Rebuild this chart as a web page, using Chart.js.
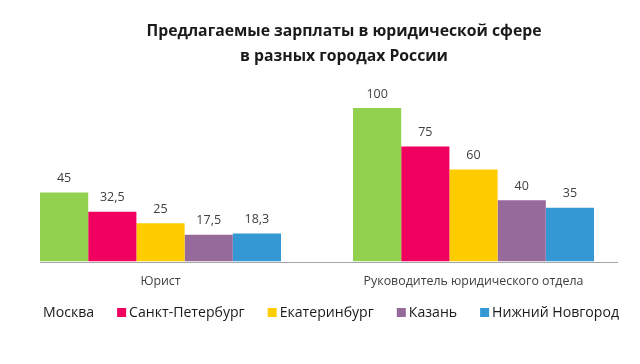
<!DOCTYPE html>
<html>
<head>
<meta charset="utf-8">
<script src="https://cdn.jsdelivr.net/npm/chart.js@4/dist/chart.umd.min.js"></script>
<style>
html,body{margin:0;padding:0;background:#fff;}
#wrap{width:640px;height:364px;position:relative;}
</style>
</head>
<body>
<div id="wrap"><canvas id="c" width="640" height="364"></canvas></div>
<script>
const titleLines = ['Предлагаемые зарплаты в юридической сфере', 'в разных городах России'];
const categories = ['Юрист', 'Руководитель юридического отдела'];
const seriesNames = ['Москва', 'Санкт-Петербург', 'Екатеринбург', 'Казань', 'Нижний Новгород'];
const moskva = [45, 100];
const spb = [32.5, 75];
const ekb = [25, 60];
const kazan = [17.5, 40];
const nnov = [18.3, 35];
const seriesColors = ['#92D050', '#F0005F', '#FFCC00', '#976A9C', '#3398D3'];

const FONT = "'Open Sans', 'DejaVu Sans', sans-serif";
const TEXT = '#404040';

const titlePlugin = {
  id: 'titleText',
  afterDraw(chart) {
    const ctx = chart.ctx;
    ctx.save();
    ctx.fillStyle = '#1a1a1a';
    ctx.font = "bold 15.75px " + FONT;
    ctx.textAlign = 'center';
    ctx.textBaseline = 'middle';
    ctx.fillText(titleLines[0], 344, 32);
    ctx.fillText(titleLines[1], 344, 57);
    ctx.restore();
  }
};

const valueLabels = {
  id: 'valueLabels',
  afterDatasetsDraw(chart) {
    const ctx = chart.ctx;
    ctx.save();
    ctx.fillStyle = TEXT;
    ctx.font = "12.5px " + FONT;
    ctx.textAlign = 'center';
    ctx.textBaseline = 'middle';
    chart.data.datasets.forEach((ds, i) => {
      chart.getDatasetMeta(i).data.forEach((el, j) => {
        ctx.fillText(String(ds.data[j]).replace('.', ','), el.x, el.y - 14);
      });
    });
    ctx.restore();
  }
};

const baseLine = {
  id: 'baseLine',
  afterDatasetsDraw(chart) {
    const ctx = chart.ctx;
    const y = Math.round(chart.scales.y.getPixelForValue(0)) + 0.5;
    const first = chart.getDatasetMeta(0).data[0];
    const x0 = first.x - first.width / 2;
    ctx.save();
    ctx.strokeStyle = '#A6A6A6';
    ctx.lineWidth = 1;
    ctx.beginPath();
    ctx.moveTo(x0, y);
    ctx.lineTo(chart.chartArea.right - 12, y);
    ctx.stroke();
    ctx.restore();
  }
};

// Legend drawn as a row of box + text; the first entry (Москва) has no box, as in the source
const legendRow = {
  id: 'legendRow',
  afterDraw(chart) {
    const ctx = chart.ctx;
    ctx.save();
    ctx.font = "14.1px " + FONT;
    ctx.textBaseline = 'middle';
    ctx.textAlign = 'left';
    const yc = 312.5;
    let x = 43;
    chart.data.datasets.forEach((ds, i) => {
      if (i > 0) {
        ctx.fillStyle = ds.backgroundColor;
        ctx.fillRect(x, yc - 4.5, 9, 9);
        x += 12;
      }
      ctx.fillStyle = '#1a1a1a';
      ctx.fillText(ds.label, x, yc);
      x += ctx.measureText(ds.label).width + 23;
    });
    ctx.restore();
  }
};

const allSeries = [moskva, spb, ekb, kazan, nnov];

new Chart(document.getElementById('c'), {
  type: 'bar',
  data: {
    labels: categories,
    datasets: seriesNames.map((n, i) => ({
      label: n,
      data: allSeries[i],
      backgroundColor: seriesColors[i],
      borderWidth: 0,
      categoryPercentage: 0.77,
      barPercentage: 1.0
    }))
  },
  options: {
    responsive: false,
    animation: false,
    devicePixelRatio: 1,
    layout: { padding: { top: 85, left: 4, right: 10, bottom: 63.5 } },
    plugins: {
      title: { display: false },
      tooltip: { enabled: false },
      legend: { display: false }
    },
    scales: {
      x: {
        grid: { display: false, drawTicks: false },
        border: { display: false },
        ticks: { color: TEXT, font: { family: FONT, size: 12.4 }, padding: 12 }
      },
      y: {
        display: false,
        min: 0,
        max: 115
      }
    }
  },
  plugins: [titlePlugin, valueLabels, baseLine, legendRow]
});
</script>
</body>
</html>
